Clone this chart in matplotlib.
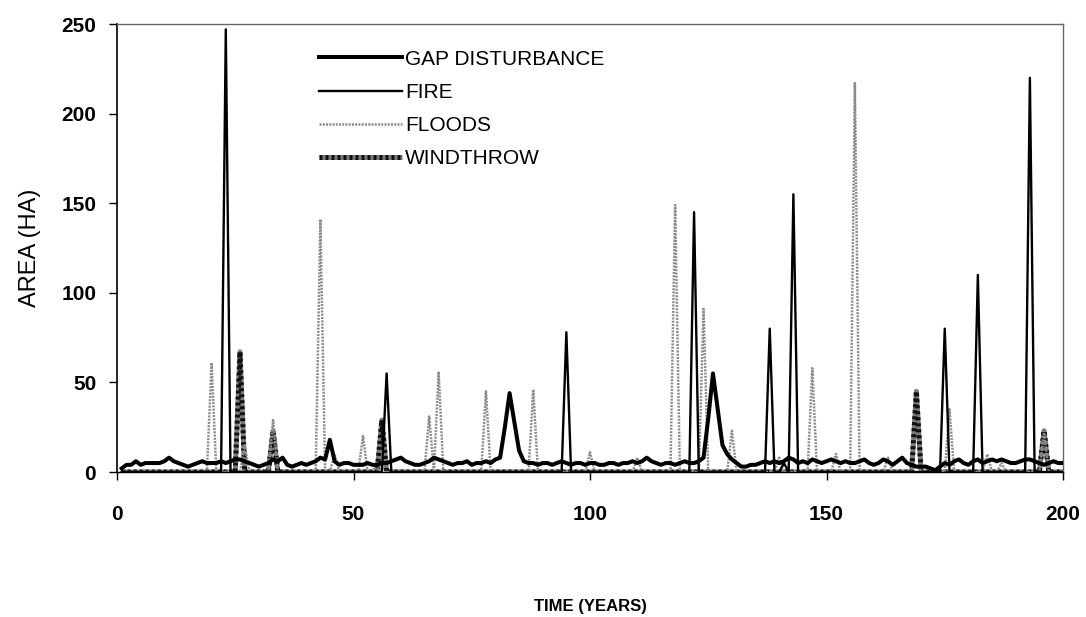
import numpy as np
import matplotlib
matplotlib.use("Agg")
import matplotlib.pyplot as plt

plt.rcParams['font.family'] = ['Liberation Sans', 'DejaVu Sans']

years = np.arange(1, 201)

# gap disturbance, one value per year (1..200)
gap = [2, 4, 4, 6, 4, 5, 5, 5, 5, 6,
       8, 6, 5, 4, 3, 4, 5, 6, 5, 5,
       5, 6, 5, 6, 7, 7, 6, 5, 4, 3,
       4, 5, 7, 6, 8, 4, 3, 4, 5, 4,
       5, 6, 8, 7, 18, 6, 4, 5, 5, 4,
       4, 4, 5, 4, 4, 5, 5, 6, 7, 8,
       6, 5, 4, 4, 5, 6, 8, 7, 6, 5,
       4, 5, 5, 6, 4, 5, 5, 6, 5, 7,
       8, 25, 44, 28, 12, 6, 5, 5, 4, 5,
       5, 4, 5, 6, 5, 4, 5, 5, 4, 5,
       5, 4, 4, 5, 5, 4, 5, 5, 6, 5,
       6, 8, 6, 5, 4, 5, 5, 4, 5, 6,
       5, 5, 6, 8, 30, 55, 35, 15, 10, 7,
       5, 3, 3, 4, 4, 5, 6, 5, 6, 5,
       6, 8, 7, 5, 6, 5, 7, 6, 5, 6,
       7, 6, 5, 6, 5, 5, 6, 7, 5, 4,
       5, 7, 6, 4, 6, 8, 5, 4, 3, 3,
       3, 2, 1, 3, 5, 4, 6, 7, 5, 4,
       6, 7, 5, 6, 7, 6, 7, 6, 5, 5,
       6, 7, 7, 6, 5, 4, 5, 6, 5, 5]

# event years and areas (zero in all other years)
fire_years = [23, 57, 95, 122, 138, 141, 143, 175, 182, 193]
fire_area = [247, 55, 78, 145, 80, 5, 155, 80, 110, 220]

flood_years = [20, 27, 33, 43, 46, 52, 55, 66, 68, 78, 88, 100, 110, 118, 124,
               130, 140, 147, 152, 156, 163, 176, 184, 187, 196]
flood_area = [61, 15, 29, 141, 10, 20, 5, 31, 56, 45, 46, 11, 8, 149, 91,
              23, 8, 58, 10, 217, 8, 35, 10, 5, 22]

wind_years = [26, 33, 56, 169, 196]
wind_area = [67, 23, 29, 45, 23]


def series(ev_years, ev_area):
    s = np.zeros(len(years))
    s[np.array(ev_years) - 1] = ev_area
    return s


fire = series(fire_years, fire_area)
floods = series(flood_years, flood_area)
wind = series(wind_years, wind_area)

fig = plt.figure(figsize=(10.86, 6.17), dpi=100)
ax = fig.add_axes([117/1086, 1-472/617, (1063-117)/1086, (472-24)/617])

wt_base, = ax.plot(years, wind, color='#7a7a7a', lw=3.6, zorder=2, solid_capstyle='butt')
wt_top, = ax.plot(years, wind, color='#111111', lw=3.6, zorder=2.1, dashes=(0.6, 0.6))
fl, = ax.plot(years, floods, color='#8c8c8c', lw=1.8, dashes=(0.8, 0.5), zorder=3)
fi, = ax.plot(years, fire, color='black', lw=1.7, zorder=4)
gp, = ax.plot(years, gap, color='black', lw=2.9, zorder=5)

ax.set_xlim(0, 200)
ax.set_ylim(0, 250)
ax.set_xticks([0, 50, 100, 150, 200])
ax.set_yticks([0, 50, 100, 150, 200, 250])
ax.tick_params(direction='out', length=6, width=1, labelsize=15)
ax.tick_params(axis='x', pad=18)
ax.tick_params(axis='y', pad=9)
for lab in ax.get_xticklabels() + ax.get_yticklabels():
    lab.set_fontweight('bold')
for side in ['top', 'right']:
    ax.spines[side].set_color('#666666')
    ax.spines[side].set_linewidth(1.0)
ax.spines['left'].set_linewidth(1.2)
ax.spines['bottom'].set_linewidth(1.0)

ax.set_ylabel('AREA (HA)', fontsize=17, va='center')
ax.yaxis.set_label_coords(-(117-30)/946, 0.5)
ax.set_xlabel('TIME (YEARS)', fontsize=12, fontweight='bold', va='center',
              family=['Liberation Sans Narrow', 'Liberation Sans'])
ax.xaxis.set_label_coords(0.5, -(606-472)/448)

ax.legend([gp, fi, fl, (wt_base, wt_top)],
          ['GAP DISTURBANCE', 'FIRE', 'FLOODS', 'WINDTHROW'],
          loc='upper left', bbox_to_anchor=(300/1086, 1-31/617),
          bbox_transform=fig.transFigure, frameon=False, fontsize=15,
          handlelength=4.0, handletextpad=0.15, labelspacing=0.68)

fig.savefig('out.png', dpi=100)
